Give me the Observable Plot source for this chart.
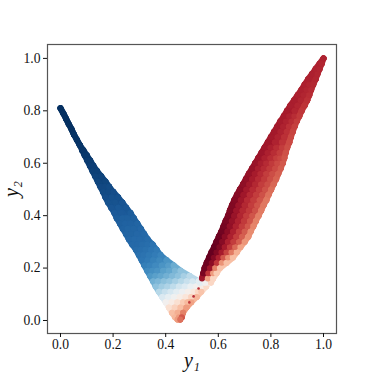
<!DOCTYPE html>
<html><head><meta charset="utf-8">
<script src="https://cdn.jsdelivr.net/npm/d3@7"></script>
<script src="https://cdn.jsdelivr.net/npm/@observablehq/plot@0.6"></script>
<style>
html,body{margin:0;padding:0;background:#fff}
svg{display:block}
[aria-label="x-axis label"],[aria-label="y-axis label"]{font-style:italic;font-size:20px}
</style></head><body><div id="c"></div>
<script>
const tickValues=[0,0.2,0.4,0.6,0.8,1];
// each row: y2, then [y1, shade] pairs
const leftBranch=[
[.81,[0,-1]],[.79,[.011,-1]],[.77,[.021,-1]],[.75,[.031,-1]],[.73,[.042,-1]],[.71,[.051,-.99]],[.69,[.062,-.99]],[.67,[.073,-.98]],
[.65,[.082,-.98],[.087,-.98]],[.63,[.092,-.97],[.1,-.97]],[.61,[.102,-.96],[.113,-.96]],[.59,[.112,-.95],[.125,-.95]],
[.57,[.122,-.94],[.139,-.94]],[.55,[.132,-.93],[.155,-.93]],[.53,[.142,-.92],[.171,-.92]],
[.51,[.152,-.91],[.168,-.91],[.185,-.9]],[.49,[.162,-.9],[.182,-.9],[.201,-.89]],[.47,[.171,-.89],[.195,-.88],[.219,-.88]],
[.45,[.181,-.87],[.208,-.87],[.235,-.86]],[.43,[.193,-.86],[.22,-.85],[.25,-.85]],[.41,[.205,-.84],[.232,-.84],[.266,-.83]],
[.39,[.214,-.83],[.235,-.82],[.255,-.82],[.279,-.82]],[.37,[.226,-.82],[.245,-.81],[.267,-.81],[.292,-.8]],
[.35,[.237,-.81],[.255,-.8],[.278,-.8],[.305,-.79]],[.33,[.249,-.8],[.268,-.8],[.29,-.79],[.318,-.78]],
[.31,[.26,-.79],[.28,-.78],[.302,-.78],[.331,-.77]],
[.29,[.273,-.78],[.292,-.78],[.31,-.77],[.33,-.76],[.35,-.74]],
[.27,[.287,-.77],[.305,-.76],[.323,-.75],[.344,-.73],[.365,-.71]],
[.25,[.298,-.75],[.315,-.74],[.335,-.72],[.358,-.7],[.38,-.67]],
[.23,[.309,-.73],[.33,-.71],[.352,-.68],[.376,-.65],[.403,-.6]],
[.21,[.319,-.69],[.338,-.67],[.36,-.64],[.385,-.6],[.41,-.56],[.43,-.5]],
[.19,[.33,-.64],[.348,-.62],[.367,-.6],[.39,-.55],[.412,-.52],[.435,-.46],[.456,-.4]],
[.17,[.341,-.58],[.36,-.55],[.38,-.52],[.402,-.48],[.424,-.44],[.446,-.4],[.468,-.33],[.49,-.27]],
[.15,[.352,-.48],[.37,-.45],[.392,-.41],[.414,-.38],[.436,-.33],[.458,-.28],[.48,-.22],[.502,-.16],[.525,-.1]],
[.13,[.362,-.4],[.384,-.35],[.406,-.31],[.428,-.25],[.45,-.18],[.472,-.13],[.494,-.06],[.516,0],[.536,.07],[.554,.18]],
[.11,[.374,-.28],[.396,-.22],[.418,-.16],[.44,-.1],[.462,-.04],[.484,.03],[.506,.1],[.522,.2],[.535,.28]],
[.09,[.387,-.14],[.409,-.08],[.431,-.02],[.453,.05],[.475,.12],[.497,.22],[.518,.33]],
[.07,[.40,0],[.422,.07],[.444,.15],[.466,.25],[.482,.32],[.497,.4]],
[.05,[.412,.15],[.434,.22],[.456,.3],[.479,.42]],
[.03,[.424,.3],[.445,.36],[.466,.5]],
[.012,[.436,.33],[.45,.42],[.461,.62]],
[.004,[.445,.42],[.455,.55]]
];
const flecks=[
[.122,[.525,.75]],[.092,[.506,.75]],[.069,[.49,.7]]
];
const rightBranch=[
[.145,[.53,-.1],[.55,0],[.572,.2]],
[.16,[.538,.85],[.56,.4],[.58,.2]],
[.18,[.543,.95],[.562,.72],[.58,.42],[.593,.25]],
[.20,[.548,.97],[.568,.85],[.588,.5],[.606,.28]],
[.22,[.556,.98],[.575,.9],[.594,.72],[.613,.45],[.631,.3]],
[.24,[.565,1],[.583,.92],[.601,.8],[.619,.62],[.637,.45],[.655,.3]],
[.26,[.574,1],[.593,.93],[.612,.82],[.631,.68],[.65,.52],[.67,.35]],
[.28,[.584,1],[.604,.93],[.624,.82],[.644,.7],[.664,.57],[.684,.4]],
[.30,[.593,.99],[.614,.91],[.636,.8],[.657,.7],[.679,.6],[.70,.44]],
[.32,[.602,.98],[.624,.9],[.646,.8],[.668,.7],[.69,.6],[.714,.46]],
[.34,[.612,.97],[.634,.9],[.656,.8],[.678,.7],[.70,.61],[.723,.47]],
[.36,[.62,.96],[.643,.88],[.666,.79],[.689,.7],[.712,.62],[.733,.49]],
[.38,[.628,.95],[.651,.87],[.674,.79],[.697,.71],[.72,.63],[.743,.5]],
[.40,[.637,.94],[.66,.86],[.683,.78],[.706,.7],[.729,.63],[.753,.51]],
[.42,[.644,.93],[.668,.85],[.692,.77],[.716,.71],[.74,.64],[.763,.52]],
[.44,[.652,.93],[.676,.85],[.70,.77],[.724,.7],[.748,.63],[.772,.53]],
[.46,[.661,.92],[.685,.84],[.709,.76],[.733,.7],[.757,.63],[.783,.53]],
[.48,[.671,.91],[.695,.84],[.719,.76],[.743,.7],[.767,.64],[.791,.55]],
[.50,[.682,.9],[.706,.83],[.73,.76],[.754,.7],[.778,.64],[.801,.56]],
[.52,[.694,.89],[.717,.83],[.74,.77],[.763,.7],[.787,.65],[.81,.58]],
[.54,[.705,.88],[.728,.82],[.751,.76],[.774,.71],[.797,.65],[.82,.59]],
[.56,[.716,.87],[.738,.82],[.76,.76],[.782,.7],[.805,.65],[.828,.6]],
[.58,[.728,.87],[.75,.81],[.772,.76],[.794,.71],[.816,.66],[.837,.61]],
[.60,[.74,.86],[.761,.81],[.782,.76],[.803,.71],[.824,.66],[.845,.62]],
[.62,[.752,.85],[.775,.8],[.798,.75],[.82,.7],[.835,.67],[.851,.63]],
[.64,[.764,.85],[.787,.8],[.81,.75],[.833,.7],[.856,.64]],
[.66,[.776,.84],[.798,.8],[.82,.75],[.842,.7],[.862,.65]],
[.68,[.788,.84],[.815,.79],[.842,.73],[.87,.66]],
[.70,[.80,.83],[.825,.79],[.85,.74],[.876,.67]],
[.72,[.812,.83],[.836,.79],[.86,.74],[.883,.68]],
[.74,[.824,.83],[.846,.79],[.868,.74],[.89,.69]],
[.76,[.836,.82],[.857,.79],[.878,.75],[.898,.7]],
[.78,[.849,.82],[.869,.79],[.889,.75],[.908,.71]],
[.80,[.861,.82],[.89,.78],[.917,.72]],
[.82,[.874,.81],[.901,.78],[.928,.73]],
[.84,[.888,.81],[.913,.78],[.938,.74]],
[.86,[.902,.8],[.924,.78],[.946,.75]],
[.88,[.916,.8],[.935,.78],[.953,.76]],
[.90,[.928,.8],[.945,.78],[.961,.77]],
[.92,[.941,.8],[.97,.78]],
[.94,[.956,.8],[.977,.78]],
[.96,[.97,.79],[.985,.78]],
[.98,[.985,.79],[.993,.78]],
[1,[1,.79]]
];
const expand=rows=>rows.flatMap(([y2,...ps])=>ps.map(([y1,v])=>({y1,y2,v})));
const edge=(rows,i)=>rows.map(([y2,...ps])=>{const [y1,v]=i?ps[ps.length-1]:ps[0];return {y1,y2,v};});
const color={type:"linear",scheme:"RdBu",reverse:true,domain:[-1,1]};
const W=6;
const lineOpts={x:"y1",y:"y2",stroke:"v",strokeWidth:W,strokeLinecap:"round",strokeLinejoin:"round"};
const dotOpts={x:"y1",y:"y2",fill:"v",r:W/2,stroke:"none"};
const branch=rows=>[
  Plot.line(expand(rows),{...lineOpts,z:"y2"}),
  Plot.line(edge(rows,0),{...lineOpts,z:null}),
  Plot.line(edge(rows,1),{...lineOpts,z:null}),
  Plot.dot(expand(rows),dotOpts)
];
const chart=Plot.plot({
  width:374,height:374,marginLeft:47,marginRight:38,marginTop:44,marginBottom:41,
  style:{fontFamily:"'Liberation Serif',serif",fontSize:"13.6px",color:"#111",background:"#fff"},
  x:{domain:[-.0494,1.0494],label:"y₁"},y:{domain:[-.0496,1.053],label:"y₂"},color,
  marks:[
    ...branch(leftBranch),
    ...branch(rightBranch),
    Plot.dot(expand(flecks),{...dotOpts,r:1.3}),
    Plot.frame({stroke:"#555",strokeWidth:1.2}),
    Plot.axisX({ticks:tickValues,tickFormat:d3.format(".1f"),tickSize:4,tickPadding:2,label:"y₁",labelAnchor:"center",labelArrow:"none",labelOffset:33}),
    Plot.axisY({ticks:tickValues,tickFormat:d3.format(".1f"),tickSize:4,tickPadding:3,label:"y₂",labelAnchor:"center",labelArrow:"none",labelOffset:44})
  ]
});
document.getElementById("c").appendChild(chart);
</script></body></html>
